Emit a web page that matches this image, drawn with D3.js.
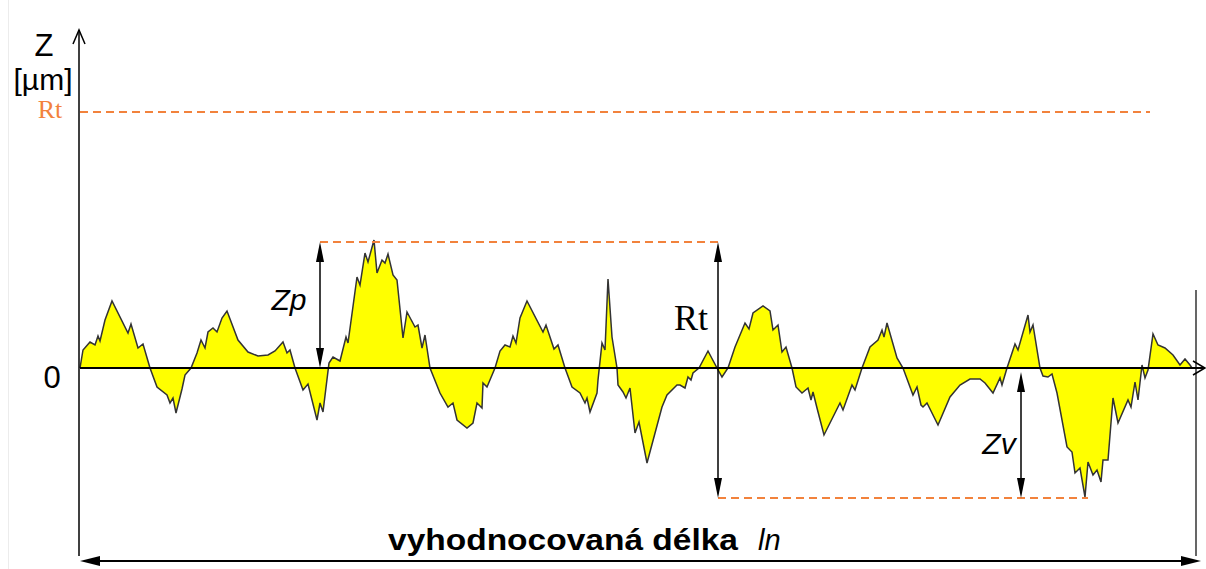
<!DOCTYPE html>
<html>
<head>
<meta charset="utf-8">
<style>
body { margin: 0; background: #fff; }
svg { display: block; }
.sans { font-family: "Liberation Sans", Arial, sans-serif; }
.serif { font-family: "Liberation Serif", "Times New Roman", serif; }
</style>
</head>
<body>
<svg id="chart" width="1206" height="569"></svg>
<script src="https://cdn.jsdelivr.net/npm/d3@7"></script>
<script>
// roughness profile, x along the evaluation length, z height from mean line
var profileX = [0,3,10,15,18,20,25,32,48,51,58,63,70,77,87,90,93,96,102,105,111,117,121,125,128,133,137,142,147,158,168,178,188,195,203,207,210,215,223,228,237,240,243,249,253,260,266,268,277,280,285,288,294,297,302,305,308,313,317,323,327,335,338,342,345,350,360,368,373,377,387,393,397,402,403,407,415,420,425,430,433,436,440,447,463,466,474,478,485,492,500,505,507,510,517,518,522,525,528,532,537,538,543,546,550,555,559,567,582,587,597,600,605,608,611,613,619,628,637,642,648,655,665,669,673,683,690,693,698,702,706,712,716,722,728,731,733,737,744,760,763,772,775,782,790,798,802,804,807,817,823,833,837,841,843,847,858,870,880,890,900,905,913,920,922,927,935,938,948,950,953,960,963,968,972,977,987,992,995,1000,1005,1008,1013,1017,1021,1023,1028,1033,1038,1048,1051,1055,1058,1062,1065,1068,1073,1078,1085,1093,1100,1105,1110,1112];
var profileZ = [0,18,26,23,32,27,48,67,35,44,20,24,0,-19,-27,-35,-30,-45,-21,-7,0,15,28,20,36,40,36,50,57,28,16,12,13,17,26,15,18,0,-22,-16,-52,-35,-44,5,11,7,31,25,91,83,115,106,128,95,108,105,114,93,88,30,56,41,43,20,33,0,-25,-39,-35,-52,-60,-55,-35,-40,-15,-19,0,17,23,21,32,25,50,67,36,43,19,23,0,-19,-25,-35,-30,-44,-25,-12,25,18,89,31,0,-17,-24,-30,-20,-65,-54,-95,-39,-27,-17,-17,-20,-9,-12,-5,0,17,0,-9,0,21,45,39,55,62,57,38,43,16,21,0,-19,-25,-20,-32,-24,-40,-67,-35,-42,-17,-22,0,21,28,38,31,45,10,0,-27,-19,-37,-39,-35,-57,-29,-17,-11,-11,-15,-25,-10,-17,0,24,18,53,36,43,0,-8,-9,-6,-25,-79,-84,-105,-100,-129,-94,-107,-102,-114,-92,-92,-30,-55,-32,-39,-14,-32,3,-10,-2,34,23,20,13,3,9,3,0];

var zp = 126;     // highest peak
var zv = -130;    // deepest valley
var rt = zp - zv; // total height

var svg = d3.select("#chart");
var orange = "#f2823c";

var x = d3.scaleLinear().domain([0, 1120]).range([80, 1200]);
var y = d3.scaleLinear().domain([0, 256]).range([368, 112]);

var data = profileX.map(function(d, i){ return {x: d, z: profileZ[i]}; });

// faint border on the left
svg.append("line").attr("x1", 8.5).attr("x2", 8.5).attr("y1", 0).attr("y2", 569)
  .attr("stroke", "#ececec").attr("stroke-width", 1);

// profile
var area = d3.area().x(function(d){ return x(d.x); }).y0(y(0)).y1(function(d){ return y(d.z); });
var line = d3.line().x(function(d){ return x(d.x); }).y(function(d){ return y(d.z); });

svg.append("path").datum(data).attr("d", area).attr("fill", "#ffff00");
svg.append("path").datum(data).attr("d", line)
  .attr("fill", "none").attr("stroke", "#333").attr("stroke-width", 1.5).attr("stroke-linejoin", "miter");

// mean line with open arrow
svg.append("line").attr("x1", 80).attr("x2", 1205).attr("y1", y(0)).attr("y2", y(0))
  .attr("stroke", "#000").attr("stroke-width", 2);
svg.append("path").attr("d", "M1193," + (y(0) - 7) + "L1205," + y(0) + "L1193," + (y(0) + 7))
  .attr("fill", "none").attr("stroke", "#000").attr("stroke-width", 1.5);

// z axis with open arrow
svg.append("line").attr("x1", 79).attr("x2", 79).attr("y1", 30).attr("y2", 556)
  .attr("stroke", "#000").attr("stroke-width", 1.5);
svg.append("path").attr("d", "M73,44L79,30L85,44")
  .attr("fill", "none").attr("stroke", "#000").attr("stroke-width", 1.5);

// right end of evaluation length
svg.append("line").attr("x1", 1196).attr("x2", 1196).attr("y1", 290).attr("y2", 556)
  .attr("stroke", "#000").attr("stroke-width", 1.2);

// dashed level lines
function dashed(x1, x2, z){
  svg.append("line").attr("x1", x1).attr("x2", x2).attr("y1", y(z)).attr("y2", y(z))
    .attr("stroke", orange).attr("stroke-width", 2).attr("stroke-dasharray", "8,5");
}
dashed(80, 1150, rt);
dashed(x(240), x(642), zp);
dashed(x(638), x(1008), zv);

// double arrows with filled heads
function vArrow(xp, y1, y2){
  svg.append("line").attr("x1", xp).attr("x2", xp).attr("y1", y1 + 12).attr("y2", y2 - 12)
    .attr("stroke", "#000").attr("stroke-width", 1.5);
  svg.append("path").attr("d", "M" + xp + "," + y1 + "L" + (xp - 4) + "," + (y1 + 20) + "L" + (xp + 4) + "," + (y1 + 20) + "Z");
  svg.append("path").attr("d", "M" + xp + "," + y2 + "L" + (xp - 4) + "," + (y2 - 20) + "L" + (xp + 4) + "," + (y2 - 20) + "Z");
}
vArrow(x(240), y(zp), y(0));
vArrow(x(638), y(zp), y(zv));
vArrow(x(941), y(0) + 4, y(zv));

// evaluation length arrow
svg.append("line").attr("x1", 92).attr("x2", 1190).attr("y1", 561).attr("y2", 561)
  .attr("stroke", "#000").attr("stroke-width", 2);
svg.append("path").attr("d", "M80,561L100,556L100,566Z");
svg.append("path").attr("d", "M1201,561L1181,556L1181,566Z");

// labels
svg.append("text").attr("class", "sans").attr("x", 44).attr("y", 56)
  .attr("text-anchor", "middle").attr("font-size", 31).text("Z");
svg.append("text").attr("class", "sans").attr("x", 43).attr("y", 90)
  .attr("text-anchor", "middle").attr("font-size", 30).text("[µm]");
svg.append("text").attr("class", "serif").attr("x", 50).attr("y", 118)
  .attr("text-anchor", "middle").attr("font-size", 26).attr("fill", orange).text("Rt");
svg.append("text").attr("class", "sans").attr("x", 52).attr("y", 388)
  .attr("text-anchor", "middle").attr("font-size", 31).text("0");
svg.append("text").attr("class", "sans").attr("x", 289).attr("y", 310)
  .attr("text-anchor", "middle").attr("font-size", 30).attr("font-style", "italic").text("Zp");
svg.append("text").attr("class", "serif").attr("x", 691).attr("y", 330)
  .attr("text-anchor", "middle").attr("font-size", 36).text("Rt");
svg.append("text").attr("class", "sans").attr("x", 999).attr("y", 454)
  .attr("text-anchor", "middle").attr("font-size", 30).attr("font-style", "italic").text("Zv");

svg.append("text").attr("class", "sans").attr("x", 388).attr("y", 550)
  .attr("font-size", 29).attr("font-weight", "bold")
  .attr("textLength", 350).attr("lengthAdjust", "spacingAndGlyphs")
  .text("vyhodnocovaná délka");
svg.append("text").attr("class", "sans").attr("x", 758).attr("y", 550)
  .attr("font-size", 29).attr("font-style", "italic").text("ln");
</script>
</body>
</html>
